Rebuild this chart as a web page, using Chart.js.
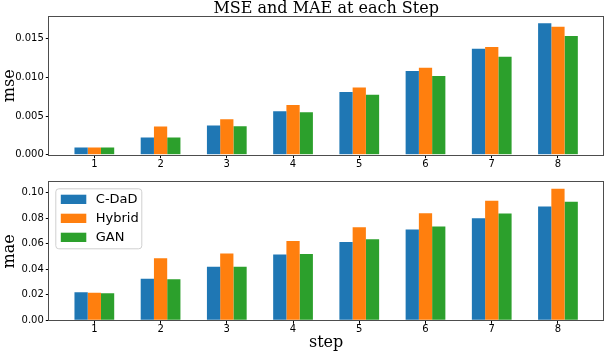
<!DOCTYPE html>
<html>
<head>
<meta charset="utf-8">
<script src="https://cdn.jsdelivr.net/npm/chart.js@4.4.0/dist/chart.umd.min.js"></script>
<style>
  html, body { margin: 0; padding: 0; background: #fff; }
  #wrap { position: relative; width: 604px; height: 352px; overflow: hidden; }
  canvas { position: absolute; left: 0; }
</style>
</head>
<body>
<div id="wrap">
  <canvas id="top" width="604" height="170" style="top:0"></canvas>
  <canvas id="bot" width="604" height="182" style="top:170px"></canvas>
</div>
<script>
// ---- data ----
const categories = [1, 2, 3, 4, 5, 6, 7, 8];
const seriesNames = ['C-DaD', 'Hybrid', 'GAN'];
const mseCDaD   = [0.00094, 0.00223, 0.00377, 0.00561, 0.00810, 0.01084, 0.01371, 0.01700];
const mseHybrid = [0.00094, 0.00364, 0.00458, 0.00643, 0.00870, 0.01127, 0.01393, 0.01655];
const mseGAN    = [0.00094, 0.00223, 0.00368, 0.00548, 0.00776, 0.01020, 0.01268, 0.01535];
const maeCDaD   = [0.0220, 0.0325, 0.0421, 0.0516, 0.0615, 0.0712, 0.0801, 0.0893];
const maeHybrid = [0.0217, 0.0487, 0.0524, 0.0623, 0.0730, 0.0840, 0.0937, 0.1031];
const maeGAN    = [0.0212, 0.0322, 0.0421, 0.0521, 0.0636, 0.0736, 0.0838, 0.0929];
const mseTicks = [0.000, 0.005, 0.010, 0.015];
const maeTicks = [0.00, 0.02, 0.04, 0.06, 0.08, 0.10];
const titleText = 'MSE and MAE at each Step';
const xTitle = 'step';

// ---- styling ----
const colors = ['#1f77b4', '#ff7f0e', '#2ca02c'];
Chart.defaults.color = '#000';
Chart.defaults.font.family = "'DejaVu Sans', sans-serif";
Chart.defaults.animation = false;

function makeDatasets(arrs) {
  return arrs.map((vals, i) => ({
    label: seriesNames[i],
    data: categories.map((c, j) => ({ x: c, y: vals[j] })),
    backgroundColor: colors[i],
    borderWidth: 0,
    categoryPercentage: 0.6,
    barPercentage: 1.0
  }));
}

const framePlugin = {
  id: 'frame',
  afterDatasetsDraw(chart) {
    const a = chart.chartArea, ctx = chart.ctx;
    ctx.save();
    ctx.strokeStyle = '#4d4d4d';
    ctx.lineWidth = 1;
    ctx.strokeRect(Math.round(a.left) - 0.5, Math.round(a.top) - 0.5,
                   Math.round(a.right - a.left) + 1, Math.round(a.bottom - a.top) + 1);
    ctx.restore();
  }
};

const legendPlugin = {
  id: 'customLegend',
  afterDraw(chart) {
    const ctx = chart.ctx;
    const a = chart.chartArea;
    const x0 = a.left + 6.5, y0 = a.top + 6.5, w = 86, h = 60, r = 3;
    ctx.save();
    ctx.beginPath();
    ctx.moveTo(x0 + r, y0);
    ctx.lineTo(x0 + w - r, y0); ctx.quadraticCurveTo(x0 + w, y0, x0 + w, y0 + r);
    ctx.lineTo(x0 + w, y0 + h - r); ctx.quadraticCurveTo(x0 + w, y0 + h, x0 + w - r, y0 + h);
    ctx.lineTo(x0 + r, y0 + h); ctx.quadraticCurveTo(x0, y0 + h, x0, y0 + h - r);
    ctx.lineTo(x0, y0 + r); ctx.quadraticCurveTo(x0, y0, x0 + r, y0);
    ctx.closePath();
    ctx.fillStyle = 'rgba(255,255,255,0.8)';
    ctx.fill();
    ctx.strokeStyle = '#d0d0d0';
    ctx.lineWidth = 1;
    ctx.stroke();
    ctx.font = "13px 'DejaVu Sans'";
    ctx.textBaseline = 'middle';
    ctx.fillStyle = '#000';
    chart.data.datasets.forEach((ds, i) => {
      const cy = y0 + 10.5 + i * 19;
      ctx.fillStyle = ds.backgroundColor;
      ctx.fillRect(x0 + 5, cy - 4.6, 25.5, 9.3);
      ctx.fillStyle = '#000';
      ctx.fillText(ds.label, x0 + 40, cy + 0.5);
    });
    ctx.restore();
  }
};

function makeChart(id, arrs, ticksArr, yLabel, decimals, opts) {
  const allVals = [].concat(...arrs);
  const ymax = Math.max(...allVals) * 1.05;
  return new Chart(document.getElementById(id), {
    type: 'bar',
    data: { datasets: makeDatasets(arrs) },
    plugins: opts.plugins,
    options: {
      responsive: false,
      devicePixelRatio: 1,
      animation: false,
      layout: { padding: { left: 0, right: 1, top: opts.padTop, bottom: 0 } },
      plugins: {
        legend: { display: false },
        tooltip: { enabled: false },
        title: opts.title ? {
          display: true, text: opts.title, fullSize: false,
          font: { family: "'DejaVu Serif', serif", size: 16, weight: 'normal', lineHeight: 1.05 },
          padding: { top: 0, bottom: 0 }, color: '#000'
        } : { display: false }
      },
      scales: {
        x: {
          type: 'linear',
          min: 0.32, max: 8.68,
          offset: false,
          grid: { display: true, drawOnChartArea: false, drawTicks: true, tickLength: 3.5, color: '#000', offset: false },
          border: { display: false },
          ticks: { font: { size: 10 }, padding: 0, maxRotation: 0, autoSkip: false, callback: v => String(v) },
          afterBuildTicks: s => { s.ticks = categories.map(v => ({ value: v })); },
          afterFit: s => { s.height = opts.xHeight; },
          title: opts.xTitle ? {
            display: true, text: opts.xTitle,
            font: { family: "'DejaVu Serif', serif", size: 16 },
            padding: { top: 0, bottom: 0 }
          } : { display: false }
        },
        y: {
          min: 0, max: ymax,
          grid: { display: true, drawOnChartArea: false, drawTicks: true, tickLength: 3.5, color: '#000' },
          border: { display: false },
          ticks: { font: { size: 10 }, padding: 2, callback: v => Number(v).toFixed(decimals) },
          afterBuildTicks: s => { s.ticks = ticksArr.map(v => ({ value: v })); },
          afterFit: s => { s.width = 49.3; },
          title: {
            display: true, text: yLabel,
            font: { family: "'DejaVu Serif', serif", size: 16 },
            padding: { top: 0, bottom: 0 }
          }
        }
      }
    }
  });
}

makeChart('top', [mseCDaD, mseHybrid, mseGAN], mseTicks, 'mse', 3,
  { padTop: 0, title: titleText, xHeight: 15.3, plugins: [framePlugin] });
makeChart('bot', [maeCDaD, maeHybrid, maeGAN], maeTicks, 'mae', 2,
  { padTop: 12.3, xHeight: 31.7, xTitle: xTitle, plugins: [framePlugin, legendPlugin] });
</script>
</body>
</html>
